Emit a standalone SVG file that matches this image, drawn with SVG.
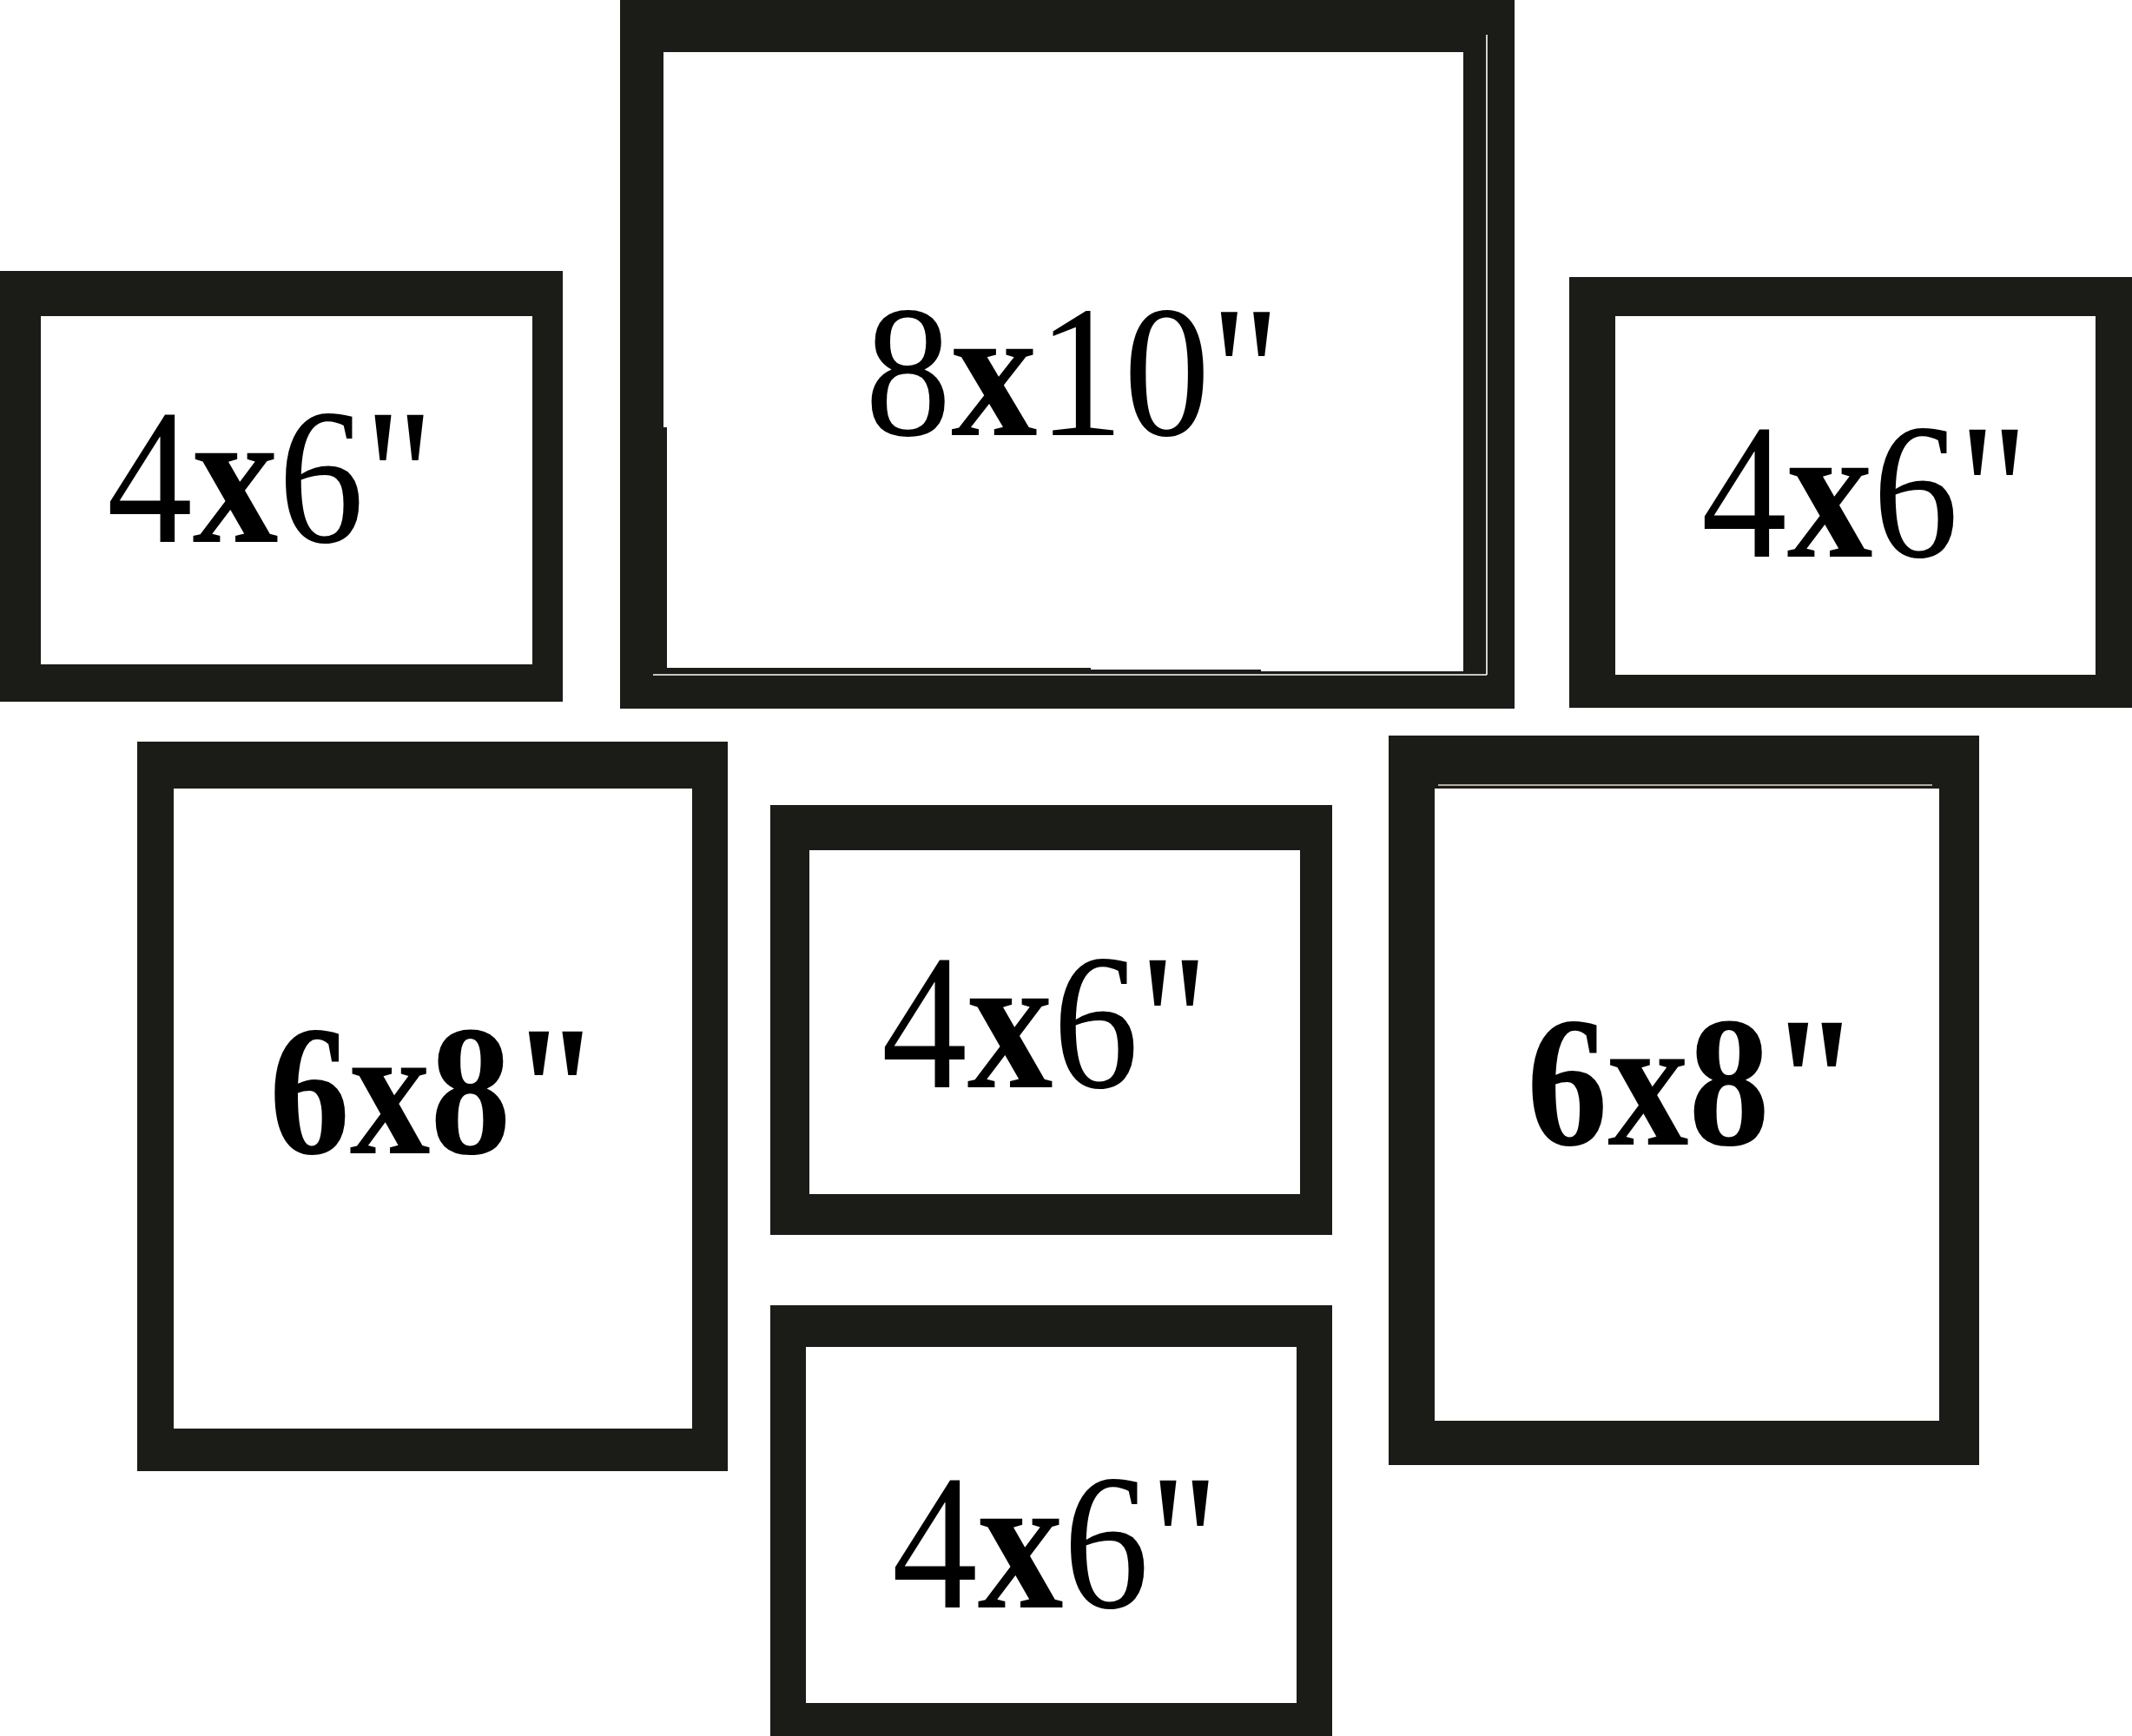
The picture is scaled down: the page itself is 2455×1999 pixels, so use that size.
<svg xmlns="http://www.w3.org/2000/svg" width="2455" height="1999" viewBox="0 0 2455 1999">
<style>
.frame{fill:#1b1b18}
.mat{fill:#ffffff}
.hair{stroke:#ffffff;stroke-width:1.6;fill:none}
</style>
<rect x="0" y="0" width="2455" height="1999" fill="#ffffff"/>
<g id="connectors"></g>
<g id="frame-4x6-top-left">
<rect class="frame" x="0" y="312" width="648" height="496"/>
<rect class="mat" x="47" y="364" width="566" height="401"/>
<text transform="translate(123 624) scale(0.886 1)" font-family="Liberation Serif, Times New Roman, serif" font-size="223" fill="#000">4<tspan font-weight="bold">x</tspan>6"</text>
</g>
<g id="frame-8x10-top">
<rect class="frame" x="714" y="0" width="1030" height="816"/>
<rect class="mat" x="764" y="60" width="921" height="432"/>
<rect class="mat" x="768" y="490" width="917" height="279"/>
<rect class="mat" x="1256" y="760" width="429" height="11"/>
<rect class="mat" x="1452" y="760" width="233" height="13"/>
<line class="hair" x1="1712" y1="40" x2="1712" y2="777"/>
<line class="hair" x1="752" y1="777" x2="1712" y2="777"/>
<text transform="translate(996 501) scale(0.92 1)" font-family="Liberation Serif, Times New Roman, serif" font-size="216" fill="#000">8<tspan font-weight="bold">x</tspan>10"</text>
</g>
<g id="frame-4x6-top-right">
<rect class="frame" x="1807" y="319" width="648" height="496"/>
<rect class="mat" x="1860" y="364" width="553" height="413"/>
<text transform="translate(1959 641) scale(0.886 1)" font-family="Liberation Serif, Times New Roman, serif" font-size="223" fill="#000">4<tspan font-weight="bold">x</tspan>6"</text>
</g>
<g id="frame-6x8-left">
<rect class="frame" x="158" y="854" width="680" height="840"/>
<rect class="mat" x="200" y="908" width="597" height="737"/>
<text transform="translate(310 1328) scale(0.863 1)" font-family="Liberation Serif, Times New Roman, serif" font-size="215" font-weight="bold" fill="#000">6x8"</text>
</g>
<g id="frame-4x6-middle">
<rect class="frame" x="887" y="927" width="647" height="495"/>
<rect class="mat" x="932" y="979" width="565" height="396"/>
<text transform="translate(1015 1252) scale(0.886 1)" font-family="Liberation Serif, Times New Roman, serif" font-size="223" fill="#000">4<tspan font-weight="bold">x</tspan>6"</text>
</g>
<g id="frame-6x8-right">
<rect class="frame" x="1599" y="847" width="680" height="840"/>
<rect class="mat" x="1652" y="908" width="581" height="728"/>
<line x1="1656" y1="904" x2="2225" y2="904" stroke="#e6dccb" stroke-width="1.6"/>
<text transform="translate(1758 1318) scale(0.868 1)" font-family="Liberation Serif, Times New Roman, serif" font-size="215" font-weight="bold" fill="#000">6x8"</text>
</g>
<g id="frame-4x6-bottom">
<rect class="frame" x="887" y="1503" width="647" height="496"/>
<rect class="mat" x="928" y="1551" width="565" height="410"/>
<text transform="translate(1027 1851) scale(0.886 1)" font-family="Liberation Serif, Times New Roman, serif" font-size="223" fill="#000">4<tspan font-weight="bold">x</tspan>6"</text>
</g>
</svg>
